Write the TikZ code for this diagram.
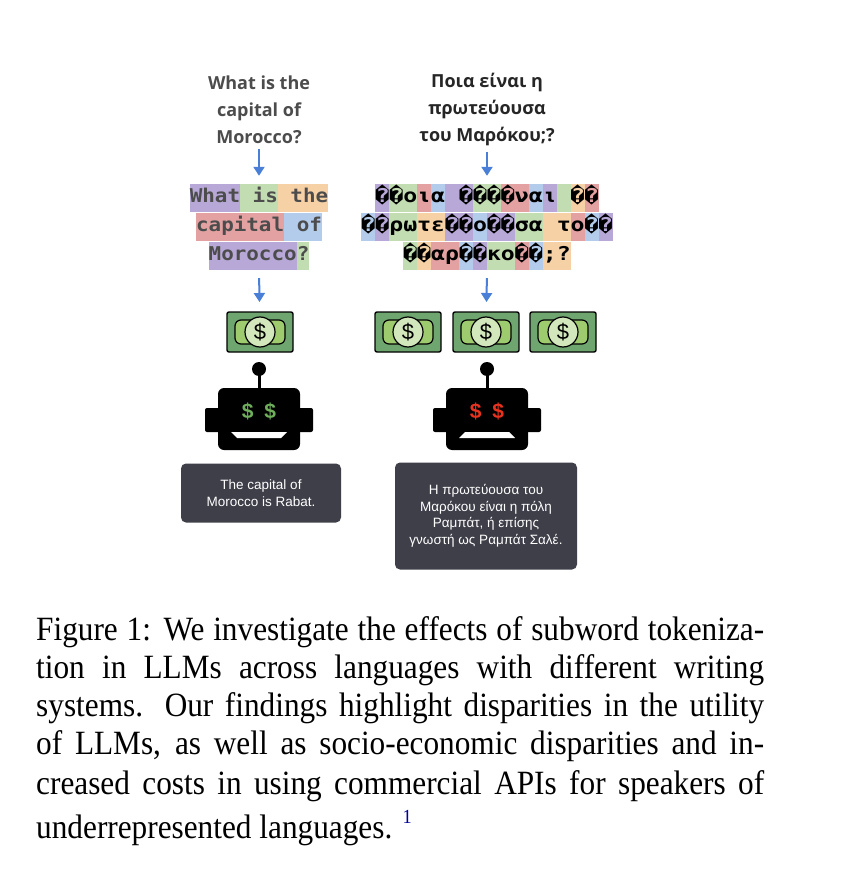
\documentclass[tikz,border=0pt]{standalone}
\usepackage{fontspec}
\setmainfont[FakeStretch=0.92]{Liberation Serif}
\newfontfamily\qfont{Open Sans}
\newfontfamily\tokfont{DejaVu Sans Mono}
\newfontfamily\ansfont{Liberation Sans}
\usetikzlibrary{arrows.meta}
\usetikzlibrary{positioning}
\definecolor{tkpu}{HTML}{B7A8D8}
\definecolor{tkgr}{HTML}{C3DDB2}
\definecolor{tkor}{HTML}{F6D1A6}
\definecolor{tkre}{HTML}{E3A1A1}
\definecolor{tkbl}{HTML}{B3CCEC}
\definecolor{arrowblue}{HTML}{4A7FD8}
\definecolor{billdark}{HTML}{6FA56F}
\definecolor{billlight}{HTML}{9DCB6E}
\definecolor{billcoin}{HTML}{D2E8BC}
\definecolor{boxgray}{HTML}{3F3F4A}
\definecolor{eyegreen}{HTML}{6FAE5A}
\definecolor{eyered}{HTML}{E8321E}
\newcommand\tk[2]{{\setlength\fboxsep{0pt}\colorbox{#1}{\vrule height 19pt depth 9pt width 0pt#2}}}
\begin{document}
\begin{tikzpicture}[%
            x=1pt,y=-1pt,
            question/.style={align=center,font=\qfont\bfseries\fontsize{18}{27}\selectfont,text=black!70},
            tokens/.style={inner sep=0pt,font=\tokfont\bfseries\fontsize{19}{29}\selectfont,text=black!70},
            answer/.style={fill=boxgray,rounded corners=5pt,text=white,align=center,
              font=\ansfont\fontsize{13.5}{16.5}\selectfont,inner sep=0pt},
            flow/.style={-{Triangle[width=11pt,length=9pt]},arrowblue,line width=2pt},
            bill/.pic={%
              \coordinate (-O) at (0,0);
              \filldraw [fill=billdark,line width=1.4pt,rounded corners=2pt] (-33,-20) rectangle (33,20);
              \filldraw [fill=billlight,line width=1.2pt,rounded corners=6pt] (-25,-12) rectangle (25,12);
              \filldraw [fill=billcoin,line width=1.2pt] (-O) circle (15);
              \node [font=\ansfont\fontsize{22}{22}\selectfont] (-sign) at (-O) {\$};
            },
            bot/.pic={%
              \coordinate (-O) at (0,0);
              \draw [line width=3pt] (0,-31) -- (0,-50);
              \fill (0,-50) circle (7);
              \fill [rounded corners=6pt] (-41,-31) rectangle (41,31);
              \fill [rounded corners=2pt] (-54,-11) rectangle (54,13);
              \node [font=\ansfont\bfseries\fontsize{21}{21}\selectfont,pic actions] (-eyes) at (0,-8) {\$\hspace{11pt}\$};
            }
          ]
            \useasboundingbox [fill=white] (0,0) rectangle (854,874);

            % questions
            \node [question] (qen) at (259,110) {What is the\\capital of\\Morocco?};
            \node [question,text=black!85] (qgr) at (487,110) {Ποια είναι η\\πρωτεύουσα\\του Μαρόκου;?};

            % tokens
            \node [tokens] (ten1) at (259,198) {\scalebox{1.1}[1]{\tk{tkpu}{What}\tk{tkgr}{\ is}\tk{tkor}{\ the}}};
            \node [tokens] (ten2) at (259,227) {\scalebox{1.1}[1]{\tk{tkre}{capital}\tk{tkbl}{\ of}}};
            \node [tokens] (ten3) at (259,256) {\scalebox{1.1}[1]{\tk{tkpu}{Morocco}\tk{tkgr}{?}}};
            \node [tokens,text=black] (tgr1) at (487,198) {\scalebox{1.22}[1]{\tk{tkpu}{�}\tk{tkgr}{�ο}\tk{tkre}{ι}\tk{tkbl}{α}\tk{tkpu}{\ �}\tk{tkgr}{��}\tk{tkre}{�ν}\tk{tkbl}{α}\tk{tkpu}{ι}\tk{tkgr}{\ }\tk{tkor}{�}\tk{tkre}{�}}};
            \node [tokens,text=black] (tgr2) at (487,227) {\scalebox{1.22}[1]{\tk{tkbl}{�}\tk{tkpu}{�}\tk{tkgr}{ρω}\tk{tkor}{τε}\tk{tkpu}{��}\tk{tkbl}{ο}\tk{tkpu}{��}\tk{tkgr}{σα}\tk{tkor}{\ τ}\tk{tkre}{ο}\tk{tkbl}{�}\tk{tkpu}{�}}};
            \node [tokens,text=black] (tgr3) at (487,256) {\scalebox{1.22}[1]{\tk{tkgr}{�}\tk{tkor}{�}\tk{tkre}{αρ}\tk{tkbl}{�}\tk{tkpu}{�}\tk{tkgr}{κο}\tk{tkre}{�}\tk{tkbl}{�}\tk{tkor}{;?}}};

            % costs
            \pic (ben) at (260,332) {bill};
            \pic (bgr1) at (408,332) {bill};
            \pic (bgr2) at (486,332) {bill};
            \pic (bgr3) at (563,332) {bill};

            % models
            \pic [text=eyegreen] (ren) at (259,419) {bot};
            \pic [text=eyered] (rgr) at (487,419) {bot};
            \fill [white] (-28,13) ++(259,419) -- ++(56,0) -- ++(-6,6) -- ++(-44,0) -- cycle;
            \fill [white] (-22,13) ++(487,419) -- ++(44,0) -- ++(6,6) -- ++(-56,0) -- cycle;

            % answers
            \node [answer,minimum width=160pt,minimum height=59pt] (aen) at (261,493)
              {The capital of\\Morocco is Rabat.};
            \node [answer,minimum width=182pt,minimum height=107pt] (agr) at (486,516)
              {Η πρωτεύουσα του\\Μαρόκου είναι η πόλη\\Ραμπάτ, ή επίσης\\γνωστή ως Ραμπάτ Σαλέ.};

            \draw [flow,shorten <=2pt,shorten >=8pt] (qen.south) -- (ten1.north);
            \draw [flow,shorten <=2pt,shorten >=8pt] (qgr.south) -- (tgr1.north);
            \draw [flow,shorten <=8pt,shorten >=30pt] (ten3.south) -- (ben-O);
            \draw [flow,shorten <=8pt,shorten >=30pt] (tgr3.south) -- (bgr2-O);

            % caption
            \foreach \y/\t in {632/{Figure 1: We investigate the effects of subword tokeniza-},
                               670/{tion in LLMs across languages with different writing},
                               708/{systems. Our findings highlight disparities in the utility},
                               746/{of LLMs, as well as socio-economic disparities and in-},
                               786/{creased costs in using commercial APIs for speakers of}}
              \node [anchor=west,inner sep=0pt,font=\fontsize{34}{36}\selectfont] at (36,\y) {\makebox[728pt][s]{\t}};
            \node [anchor=west,inner sep=0pt,font=\fontsize{34}{36}\selectfont] (cap) at (36,828)
              {underrepresented languages. \raisebox{15pt}{\textcolor{blue!60!black}{\fontsize{20}{20}\selectfont 1}}};
          \end{tikzpicture}
\end{document}
